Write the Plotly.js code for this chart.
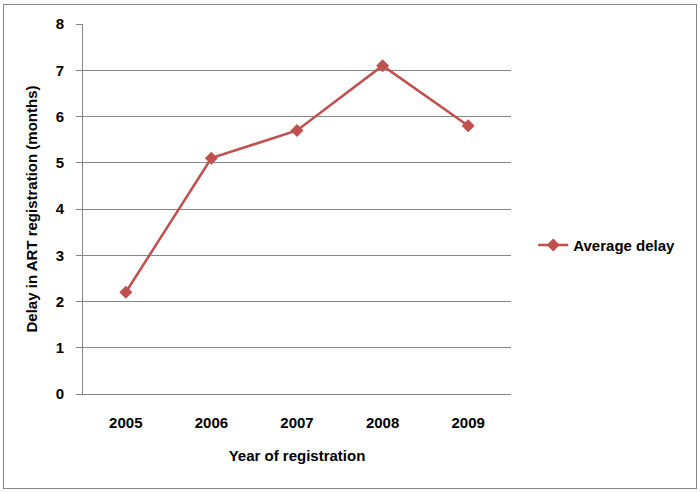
<!DOCTYPE html>
<html>
<head>
<meta charset="utf-8">
<script src="https://cdn.plot.ly/plotly-3.0.1.min.js"></script>
<style>
html,body{margin:0;padding:0;background:#fff;}
#wrap{position:relative;width:700px;height:492px;}
#chart{width:700px;height:492px;}
#frame{position:absolute;left:3px;top:4px;width:692px;height:483px;border:1px solid #868686;pointer-events:none;}
</style>
</head>
<body>
<div id="wrap"><div id="chart"></div><div id="frame"></div></div>
<script>
var years = ['2005', '2006', '2007', '2008', '2009'];
var averageDelay = [2.2, 5.1, 5.7, 7.1, 5.8];
var seriesName = 'Average delay';
var xTitle = 'Year of registration';
var yTitle = 'Delay in ART registration (months)';

var fontFam = 'Liberation Sans, Arial, sans-serif';
var fs = 15;
var trace = {
  x: years,
  y: averageDelay,
  type: 'scatter',
  mode: 'lines+markers',
  name: seriesName,
  line: {color: '#C0504D', width: 2.5},
  marker: {symbol: 'diamond', size: 10, color: '#C0504D'}
};
var layout = {
  width: 700, height: 492,
  margin: {l: 83, r: 189, t: 24, b: 98, pad: 0},
  paper_bgcolor: '#fff', plot_bgcolor: '#fff',
  font: {family: fontFam, size: fs, color: '#000', weight: 'bold'},
  showlegend: true,
  legend: {x: 1.052, xanchor: 'left', y: 0.402, yanchor: 'middle',
           font: {family: fontFam, size: fs, color: '#000', weight: 'bold'},
           bgcolor: 'rgba(0,0,0,0)'},
  xaxis: {
    type: 'category', range: [-0.5, 4.5],
    showline: true, linecolor: '#868686', linewidth: 1,
    showgrid: false, ticks: '', ticklabelstandoff: 15,
    tickfont: {family: fontFam, size: fs, weight: 'bold'},
    title: {text: xTitle, standoff: 20, font: {family: fontFam, size: fs, weight: 'bold'}}
  },
  yaxis: {
    range: [0, 8], dtick: 1, tick0: 0,
    showline: true, linecolor: '#868686', linewidth: 1,
    showgrid: true, gridcolor: '#868686', gridwidth: 1,
    zeroline: false,
    ticks: 'outside', ticklen: 6, tickcolor: '#868686',
    ticklabelstandoff: 9,
    tickfont: {family: fontFam, size: fs, weight: 'bold'},
    title: {text: yTitle, standoff: 14, font: {family: fontFam, size: fs, weight: 'bold'}}
  }
};
Plotly.newPlot('chart', [trace], layout, {displayModeBar: false, staticPlot: true});
</script>
</body>
</html>
